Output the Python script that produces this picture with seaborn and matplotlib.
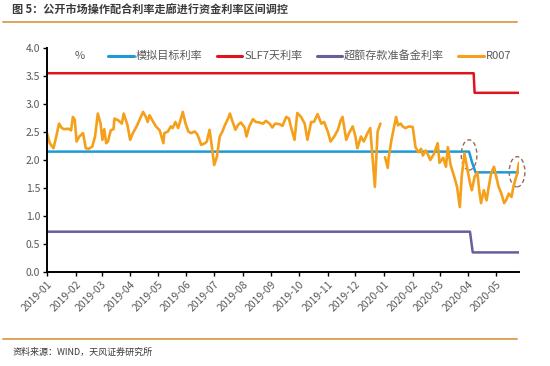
import pandas as pd
import numpy as np
import seaborn as sns
import matplotlib.pyplot as plt
import matplotlib.dates as mdates
from matplotlib.lines import Line2D
from matplotlib.patches import Ellipse

sns.set_theme(style="white")
plt.rcParams["font.family"] = ["Noto Sans CJK SC", "DejaVu Sans"]

# R007 readings (NaN = gap in the series around new year)
r007_dates = [
    "2019-01-01", "2019-01-04", "2019-01-08", "2019-01-11", "2019-01-14", "2019-01-17", "2019-01-20",
    "2019-01-24", "2019-01-27", "2019-01-29", "2019-01-31", "2019-02-02", "2019-02-05", "2019-02-09",
    "2019-02-12", "2019-02-15", "2019-02-19", "2019-02-22", "2019-02-25", "2019-02-28", "2019-03-02",
    "2019-03-04", "2019-03-06", "2019-03-08", "2019-03-11", "2019-03-14", "2019-03-15", "2019-03-19",
    "2019-03-23", "2019-03-25", "2019-03-29", "2019-04-01", "2019-04-04", "2019-04-08", "2019-04-11",
    "2019-04-15", "2019-04-18", "2019-04-20", "2019-04-22", "2019-04-26", "2019-04-29", "2019-05-03",
    "2019-05-07", "2019-05-08", "2019-05-12", "2019-05-15", "2019-05-17", "2019-05-20", "2019-05-23",
    "2019-05-26", "2019-05-28", "2019-05-31", "2019-06-03", "2019-06-06", "2019-06-10", "2019-06-13",
    "2019-06-17", "2019-06-21", "2019-06-23", "2019-06-26", "2019-06-28", "2019-07-01", "2019-07-04",
    "2019-07-07", "2019-07-10", "2019-07-12", "2019-07-16", "2019-07-18", "2019-07-21", "2019-07-24",
    "2019-07-27", "2019-07-30", "2019-08-03", "2019-08-05", "2019-08-08", "2019-08-12", "2019-08-15",
    "2019-08-19", "2019-08-23", "2019-08-26", "2019-08-30", "2019-09-02", "2019-09-05", "2019-09-10",
    "2019-09-13", "2019-09-17", "2019-09-20", "2019-09-22", "2019-09-26", "2019-09-29", "2019-10-03",
    "2019-10-07", "2019-10-10", "2019-10-14", "2019-10-17", "2019-10-21", "2019-10-25", "2019-10-28",
    "2019-11-01", "2019-11-04", "2019-11-08", "2019-11-12", "2019-11-15", "2019-11-17", "2019-11-21",
    "2019-11-24", "2019-11-28", "2019-12-01", "2019-12-03", "2019-12-07", "2019-12-10", "2019-12-14",
    "2019-12-17", "2019-12-19", "2019-12-22", "2019-12-25", "2019-12-28", "2019-12-31", "2020-01-02",
    "2020-01-05", "2020-01-06", "2020-01-09", "2020-01-14", "2020-01-16", "2020-01-19", "2020-01-21",
    "2020-01-24", "2020-01-28", "2020-02-01", "2020-02-04", "2020-02-07", "2020-02-10", "2020-02-12",
    "2020-02-15", "2020-02-18", "2020-02-20", "2020-02-24", "2020-02-28", "2020-03-01", "2020-03-05",
    "2020-03-08", "2020-03-10", "2020-03-13", "2020-03-17", "2020-03-20", "2020-03-23", "2020-03-25",
    "2020-03-28", "2020-03-31", "2020-04-03", "2020-04-05", "2020-04-08", "2020-04-11", "2020-04-13",
    "2020-04-15", "2020-04-18", "2020-04-21", "2020-04-23", "2020-04-26", "2020-04-29", "2020-05-01",
    "2020-05-04", "2020-05-07", "2020-05-10", "2020-05-12", "2020-05-15", "2020-05-18", "2020-05-20",
    "2020-05-22", "2020-05-24", "2020-05-26",
]
r007_values = [
    2.48, 2.30, 2.21, 2.42, 2.65, 2.57, 2.55,
    2.56, 2.53, 2.77, 2.72, 2.33, 2.42, 2.48,
    2.21, 2.20, 2.24, 2.42, 2.83, 2.65, 2.36,
    2.55, 2.30, 2.33, 2.53, 2.55, 2.74, 2.71,
    2.65, 2.83, 2.63, 2.36, 2.48, 2.60, 2.71,
    2.86, 2.77, 2.68, 2.80, 2.68, 2.60, 2.53,
    2.30, 2.48, 2.51, 2.60, 2.57, 2.68, 2.57,
    2.74, 2.86, 2.65, 2.51, 2.48, 2.51, 2.45,
    2.27, 2.30, 2.33, 2.54, 2.30, 1.91, 2.06,
    2.42, 2.51, 2.60, 2.74, 2.83, 2.68, 2.54,
    2.63, 2.67, 2.58, 2.42, 2.60, 2.73, 2.68,
    2.67, 2.65, 2.70, 2.65, 2.58, 2.65, 2.64,
    2.61, 2.77, 2.74, 2.60, 2.36, 2.84, 2.77,
    2.65, 2.36, 2.68, 2.68, 2.82, 2.65, 2.68,
    2.51, 2.33, 2.42, 2.54, 2.71, 2.77, 2.36,
    2.48, 2.60, 2.42, 2.21, 2.42, 2.33, 2.48,
    2.57, 2.15, 1.52, 2.51, 2.65, np.nan, 2.05,
    1.86, 2.05, 2.36, 2.77, 2.62, 2.65, 2.60,
    2.57, 2.60, 2.59, 2.23, 2.14, 2.20, 2.08,
    2.17, 2.08, 2.00, 2.11, 2.30, 1.95, 2.04,
    1.88, 2.23, 1.91, 1.70, 1.52, 1.16, 1.70,
    2.12, 1.85, 1.59, 1.46, 1.70, 1.78, 1.46,
    1.23, 1.46, 1.28, 1.49, 1.77, 1.88, 1.73,
    1.52, 1.40, 1.23, 1.28, 1.40, 1.34, 1.52,
    1.64, 1.75, 1.95,
]

target_dates = ["2019-01-01", "2020-04-02", "2020-04-05", "2020-04-09", "2020-05-26"]
target_values = [2.15, 2.15, 1.97, 1.78, 1.78]

slf_dates = ["2019-01-01", "2020-04-07", "2020-04-08", "2020-05-26"]
slf_values = [3.55, 3.55, 3.20, 3.20]

excess_dates = ["2019-01-01", "2020-04-03", "2020-04-06", "2020-05-26"]
excess_values = [0.72, 0.72, 0.35, 0.35]

labels = ["模拟目标利率", "SLF7天利率", "超额存款准备金利率", "R007"]
colors = ["#1E9BD7", "#E0141E", "#6A5D9C", "#F5A01A"]

title = "图 5：公开市场操作配合利率走廊进行资金利率区间调控"
source = "资料来源：WIND，天风证券研究所"

r007 = pd.DataFrame({"date": pd.to_datetime(r007_dates), "value": r007_values})
r007["seg"] = r007["value"].isna().cumsum()
r007 = r007.dropna()

fig = plt.figure(figsize=(5.5, 3.66), dpi=100)
ax = fig.add_axes([0.0855, 0.2568, 0.858, 0.612])

grey = "#595959"
sns.lineplot(x=pd.to_datetime(target_dates), y=target_values, ax=ax, color=colors[0], lw=1.8)
sns.lineplot(x=pd.to_datetime(slf_dates), y=slf_values, ax=ax, color=colors[1], lw=1.8)
sns.lineplot(x=pd.to_datetime(excess_dates), y=excess_values, ax=ax, color=colors[2], lw=1.8)
sns.lineplot(data=r007, x="date", y="value", units="seg", estimator=None, ax=ax,
             color=colors[3], lw=1.9)

# dashed circles marking the recent moves
for cx, cy in [("2020-04-02", 2.09), ("2020-05-24", 1.79)]:
    ax.add_patch(Ellipse((mdates.date2num(pd.Timestamp(cx)), cy), 17, 0.54,
                         fill=False, ls=(0, (3, 2)), lw=1.0, ec="#9A6A5C", clip_on=False))

ax.set_xlim(pd.Timestamp("2019-01-01"), pd.Timestamp("2020-05-26"))
ax.set_ylim(0, 4.0)
ax.set_yticks(np.arange(0, 4.01, 0.5))
ax.yaxis.set_major_formatter(plt.FormatStrFormatter("%.1f"))
ax.xaxis.set_major_locator(mdates.MonthLocator())
ax.xaxis.set_major_formatter(mdates.DateFormatter("%Y-%m"))
ax.set_xlabel("")
ax.set_ylabel("")

for s in ["top", "right"]:
    ax.spines[s].set_visible(False)
for s in ["left", "bottom"]:
    ax.spines[s].set_color("black")
    ax.spines[s].set_linewidth(1.4)

ax.tick_params(axis="both", which="major", direction="out", length=3, width=1,
               color="black", labelsize=7.5, labelcolor=grey, pad=2)
ax.tick_params(axis="x", bottom=True)
ax.tick_params(axis="y", left=True)
for lab in ax.get_xticklabels():
    lab.set_rotation(45)
    lab.set_ha("right")
    lab.set_rotation_mode("anchor")

ax.text(0.058, 0.965, "%", transform=ax.transAxes, fontsize=8, color=grey, va="center")

handles = [Line2D([], [], color=c, lw=2.2) for c in colors]
leg = ax.legend(handles, labels, ncol=4, frameon=False, fontsize=8,
                loc="center left", bbox_to_anchor=(0.13, 0.965),
                handlelength=2.3, handletextpad=0.15, columnspacing=1.3,
                borderaxespad=0, borderpad=0)
for t in leg.get_texts():
    t.set_color(grey)

fig.text(0.022, 0.973, title, fontsize=8, fontweight="bold", color="#3A3A3A", va="center")
fig.add_artist(Line2D([0.006, 0.94], [0.941, 0.941], transform=fig.transFigure,
                      color="#DFA45A", lw=1.4))
fig.add_artist(Line2D([0.006, 0.94], [0.074, 0.074], transform=fig.transFigure,
                      color="#DFA45A", lw=1.4))
fig.text(0.022, 0.038, source, fontsize=6.5, color="#3A3A3A", va="center")

fig.savefig("out.png", dpi=100)
